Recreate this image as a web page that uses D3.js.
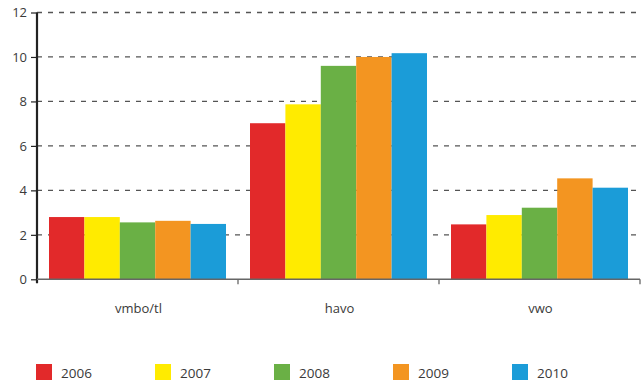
<!DOCTYPE html>
<html><head><meta charset="utf-8">
<script src="https://cdn.jsdelivr.net/npm/d3@7"></script>
<style>body{margin:0;background:#fff}svg{display:block}text{font-family:"Open Sans","DejaVu Sans",sans-serif;fill:#3a3a3a}</style>
</head><body>
<svg id="c" width="644" height="382"></svg>
<script>
const categories = ["vmbo/tl", "havo", "vwo"];
const years = ["2006", "2007", "2008", "2009", "2010"];
const v2006 = [2.80, 7.02, 2.47];
const v2007 = [2.80, 7.87, 2.89];
const v2008 = [2.56, 9.60, 3.22];
const v2009 = [2.63, 10.00, 4.54];
const v2010 = [2.49, 10.17, 4.12];
const series = [v2006, v2007, v2008, v2009, v2010];
const colors = ["#e2292a", "#ffeb00", "#6ab045", "#f39521", "#1b9cd8"];
const yTicks = [0, 2, 4, 6, 8, 10, 12];

const svg = d3.select("#c");
const mLeft = 37, mRight = 640, mTop = 12.5, mBottom = 279.3;
const x0 = d3.scaleBand().domain(categories).range([mLeft, mRight]).paddingInner(0).paddingOuter(0);
const x1 = d3.scaleBand().domain(years).range([12, x0.bandwidth() - 12]).padding(0);
const y = d3.scaleLinear().domain([0, 12]).range([mBottom, mTop]);

// gridlines
svg.append("g").selectAll("line").data(yTicks.filter(d => d > 0)).join("line")
  .attr("x1", mLeft).attr("x2", mRight)
  .attr("y1", d => y(d)).attr("y2", d => y(d))
  .attr("stroke", "#555").attr("stroke-width", 1.3).attr("stroke-dasharray", "5,6");

// bars
const g = svg.append("g");
categories.forEach((c, ci) => {
  years.forEach((yr, si) => {
    const v = series[si][ci];
    g.append("rect")
      .attr("x", x0(c) + x1(yr))
      .attr("width", x1.bandwidth())
      .attr("y", y(v))
      .attr("height", y(0) - y(v))
      .attr("fill", colors[si]);
  });
});

// y axis
const yAxis = d3.axisLeft(y).tickValues(yTicks).tickSize(6).tickPadding(4).tickFormat(d3.format("d"));
const ya = svg.append("g").attr("transform", `translate(${mLeft},0)`).call(yAxis);
ya.select(".domain").remove();
ya.selectAll(".tick line").attr("stroke", "#222").attr("stroke-width", 1.2);
ya.selectAll(".tick text").style("font-size", "13px").attr("fill", "#3a3a3a");
svg.append("line").attr("x1", mLeft).attr("x2", mLeft).attr("y1", mTop).attr("y2", mBottom + 4)
  .attr("stroke", "#222").attr("stroke-width", 2.2);

// x axis
const xa = svg.append("g").attr("transform", `translate(0,${mBottom})`);
xa.append("line").attr("x1", mLeft).attr("x2", mRight).attr("y1", 0).attr("y2", 0)
  .attr("stroke", "#666").attr("stroke-width", 1.5);
const bounds = categories.map(c => x0(c) + x0.bandwidth());
xa.selectAll("line.t").data(bounds).join("line").attr("class", "t")
  .attr("x1", d => d).attr("x2", d => d).attr("y1", 0).attr("y2", 5)
  .attr("stroke", "#666").attr("stroke-width", 1.3);
xa.selectAll("text").data(categories).join("text")
  .attr("x", d => x0(d) + x0.bandwidth() / 2 + 1).attr("y", 34)
  .attr("text-anchor", "middle").style("font-size", "13px").text(d => d);

// legend
const lg = svg.append("g");
years.forEach((yr, i) => {
  const lx = 36 + i * 119;
  lg.append("rect").attr("x", lx).attr("y", 364).attr("width", 16).attr("height", 16).attr("fill", colors[i]);
  lg.append("text").attr("x", lx + 25).attr("y", 378).style("font-size", "13.5px").text(yr);
});
</script>
</body></html>
